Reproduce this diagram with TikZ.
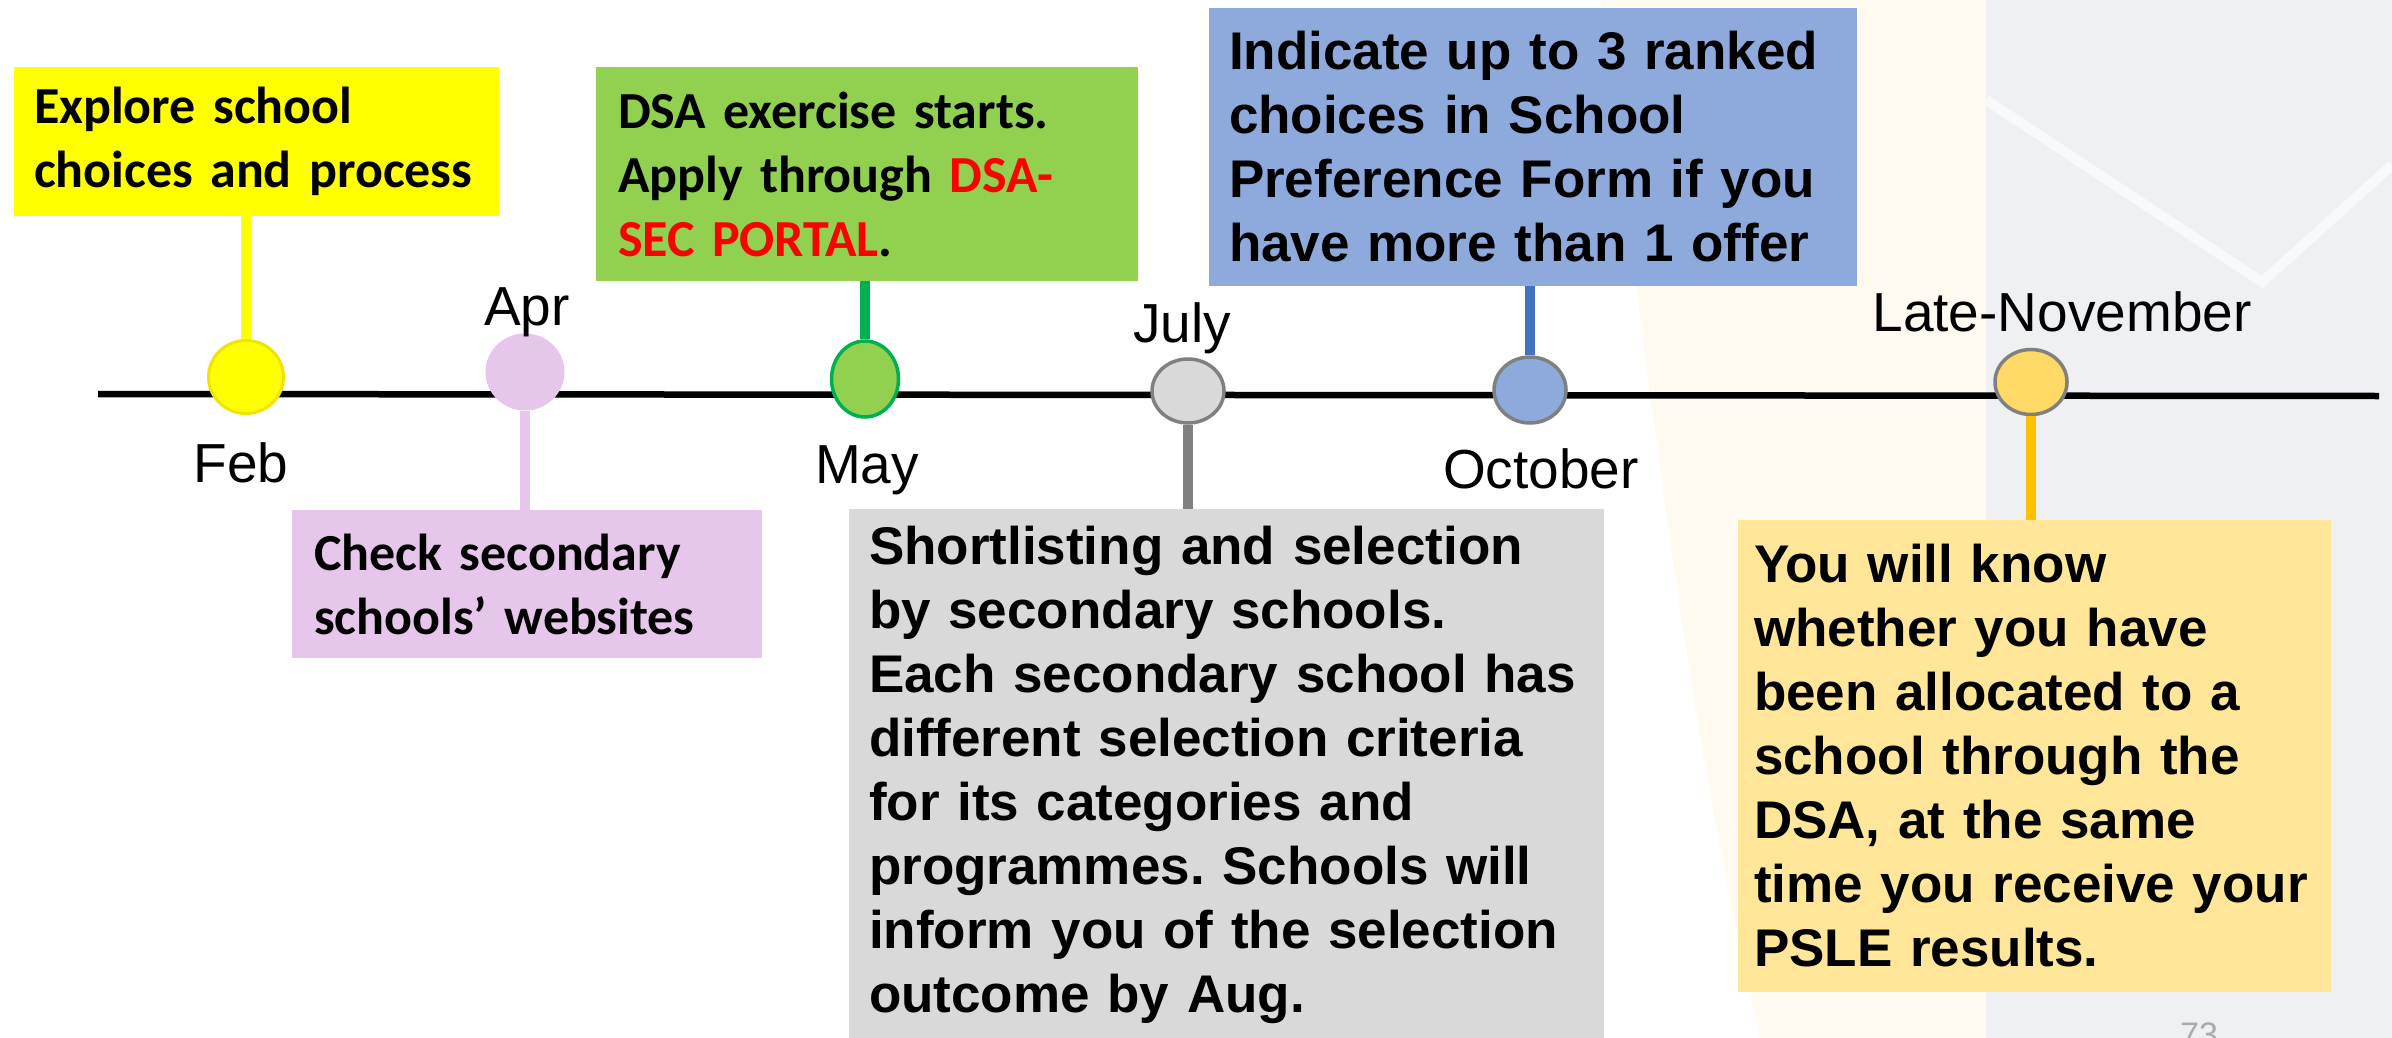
\documentclass[tikz,border=0pt]{standalone}
\usepackage{fontspec}
\setmainfont{Liberation Sans}
\newfontfamily\calfont{Carlito}
\usetikzlibrary{shapes.geometric}
\definecolor{tlyellow}{RGB}{255,255,0}
\definecolor{tlyellowedge}{RGB}{238,228,0}
\definecolor{tlpink}{RGB}{230,198,234}
\definecolor{tlgreen}{RGB}{146,208,80}
\definecolor{tldkgreen}{RGB}{0,176,80}
\definecolor{tlgrey}{RGB}{217,217,217}
\definecolor{tledge}{RGB}{128,128,128}
\definecolor{tlblue}{RGB}{142,169,219}
\definecolor{tldkblue}{RGB}{68,114,196}
\definecolor{tlgold}{RGB}{255,217,102}
\definecolor{tlorange}{RGB}{255,192,0}
\definecolor{tlcream}{RGB}{255,230,153}
\definecolor{tlred}{RGB}{255,0,0}
\definecolor{tlpage}{RGB}{170,170,170}
\definecolor{wmgrey}{RGB}{238,240,244}
\definecolor{wmcream}{RGB}{255,250,240}

\begin{document}
\begin{tikzpicture}[
  x=0.5pt, y=-0.5pt,
  box/.style={align=left, inner xsep=10pt, inner ysep=0pt, execute at begin node={\frenchspacing\hyphenpenalty=10000},
    font=\fontsize{26.5}{32}\selectfont\bfseries},
  calbox/.style={box, font=\calfont\fontsize{26}{32}\selectfont\bfseries},
  dot/.style={ellipse, inner sep=0pt, line width=1.75pt, draw=tledge},
  month/.style={anchor=base, inner sep=0pt, font=\fontsize{27.5}{33}\selectfont},
  stem/.style={line width=5pt}
]
\path[use as bounding box, fill=white] (0,0) rectangle (2392,1038);

% faint logo in the background
\fill[wmcream] (1600,0) -- (1986,0) -- (1986,1038) -- (1760,1038) .. controls (1680,700) and (1640,300) .. cycle;
\fill[wmgrey] (1986,0) rectangle (2392,1038);
\draw[white!60!wmgrey, line width=5pt] (1986,100) -- (2262,282) -- (2392,165);

% time line
\coordinate (tlstart) at (98,394);
\coordinate (tlend) at (2379,396);
\draw[line width=3.25pt] (tlstart) -- (tlend);

% boxes
\node[calbox, fill=tlyellow, text width=222.5pt, minimum height=74.5pt] (explore) at (256.5,141.5) {Explore school\\choices and process};
\node[calbox, fill=tlpink, inner xsep=11pt, text width=213pt, minimum height=74pt] (check) at (527,584) {Check secondary\\schools’ websites};
\node[calbox, fill=tlgreen, inner xsep=11pt, text width=249pt, minimum height=107pt] (dsa) at (867,174) {DSA exercise starts.\\Apply through \textcolor{tlred}{DSA-}\\\textcolor{tlred}{SEC PORTAL}.};
\node[box, fill=tlgrey, text width=357.5pt, minimum height=266pt] (shortlist) at (1226.5,775) {Shortlisting and selection\\by secondary schools.\\Each secondary school has\\different selection criteria\\for its categories and\\programmes. Schools will\\inform you of the selection\\outcome by Aug.};
\node[box, fill=tlblue, text width=304pt, minimum height=139pt] (indicate) at (1533,147) {Indicate up to 3 ranked\\choices in School\\Preference Form if you\\have more than 1 offer};
\node[box, fill=tlcream, inner xsep=8pt, text width=280.5pt, minimum height=236pt] (know) at (2034.5,756) {You will know\\whether you have\\been allocated to a\\school through the\\DSA, at the same\\time you receive your\\PSLE results.};

% dots on the line
\node[dot, fill=tlyellow, draw=tlyellowedge, line width=1.5pt, minimum width=37.5pt, minimum height=36.5pt] (feb) at (246,377) {};
\node[dot, fill=tlpink, draw=tlpink, line width=0.5pt, minimum width=39pt, minimum height=38pt] (apr) at (525,372) {};
\node[dot, fill=tlgreen, draw=tldkgreen, minimum width=33.5pt, minimum height=38pt] (may) at (865,379) {};
\node[dot, fill=tlgrey, minimum width=36pt, minimum height=32pt] (july) at (1188,391) {};
\node[dot, fill=tlblue, minimum width=36pt, minimum height=33pt] (oct) at (1530,390) {};
\node[dot, fill=tlgold, minimum width=36pt, minimum height=32.5pt] (nov) at (2031,382) {};

% stems
\draw[stem, tlyellow] (explore.south -| feb) -- (feb.north);
\draw[stem, tlpink] (apr.south) -- (apr |- check.north);
\draw[stem, tldkgreen] (dsa.south -| may) -- (may.north);
\draw[stem, tledge] (july.south) -- (july |- shortlist.north);
\draw[stem, tldkblue] (indicate.south -| oct) -- (oct.north);
\draw[stem, tlorange] (nov.south) -- (nov |- know.north);

% months
\node[month] (febl) at (241,482) {Feb};
\node[month] (aprl) at (527,325) {Apr};
\node[month] (mayl) at (867,483) {May};
\node[month] (julyl) at (1182,342) {July};
\node[month] (octl) at (1541,488) {October};
\node[month] (novl) at (2062,331) {Late-November};

\node[anchor=north, inner sep=0pt, text=tlpage, font=\fontsize{17}{20}\selectfont] (pageno) at (2199,1022) {73};
\end{tikzpicture}
\end{document}
